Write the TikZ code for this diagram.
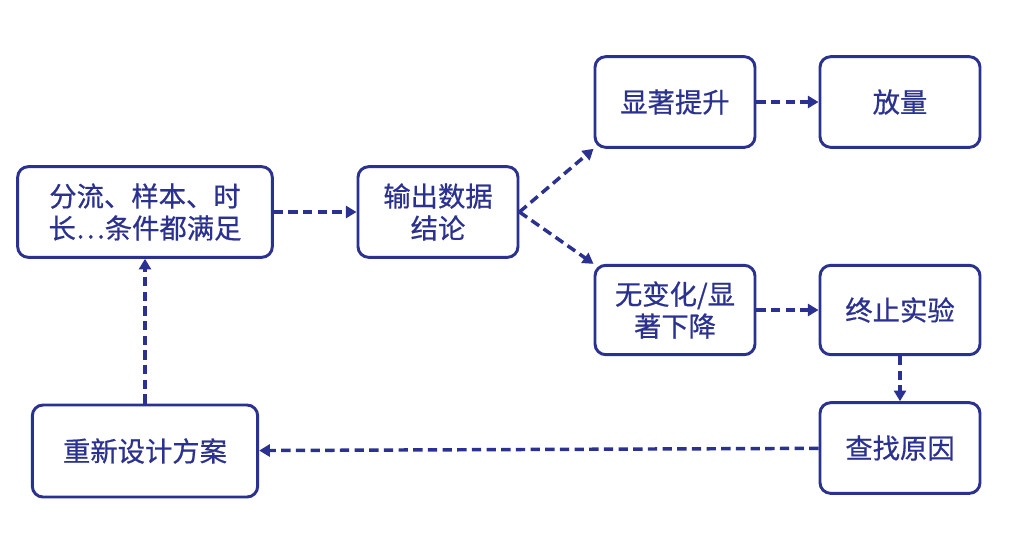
\documentclass[tikz,border=0pt]{standalone}
\usepackage{fontspec}
\setmainfont{Noto Sans CJK SC}[FakeBold=0.6,AutoFakeBold=0.6]
\usetikzlibrary{arrows.meta}
\definecolor{navy}{HTML}{2B3190}
\begin{document}
\begin{tikzpicture}[x=0.75pt,y=-0.75pt,
 box/.style={draw=navy,line width=2.2pt,rounded corners=8pt,fill=white,align=center,
   text=navy,font=\fontsize{20.5}{24}\selectfont\bfseries,inner sep=0pt},
 con/.style={draw=navy,line width=2.6pt,dash pattern=on 7pt off 4pt,-{Triangle[length=8pt,width=9pt]}}]
\useasboundingbox (0,0) rectangle (1016,532);
\node[box,minimum width=191pt,minimum height=68pt] (A) at (145,212) {分流、样本、时\\长…条件都满足};
\node[box,minimum width=120pt,minimum height=68pt] (B) at (438,212) {输出数据\\结论};
\node[box,minimum width=120pt,minimum height=68pt] (C) at (675,102) {显著提升};
\node[box,minimum width=120pt,minimum height=68pt] (D) at (900,102) {放量};
\node[box,minimum width=120pt,minimum height=67pt] (E) at (675,310) {无变化/显\\著下降};
\node[box,minimum width=120pt,minimum height=67pt] (F) at (900,310) {终止实验};
\node[box,minimum width=120pt,minimum height=68pt] (G) at (900,448) {查找原因};
\node[box,minimum width=169pt,minimum height=69pt] (H) at (145,451) {重新设计方案};
\draw[con] (A) -- (B);
\draw[con] (B.east) -- (C.south west);
\draw[con] (B.east) -- (E.north west);
\draw[con] (C) -- (D);
\draw[con] (E) -- (F);
\draw[con] (F) -- (G);
\draw[con] (G) -- (H);
\draw[con] (H) -- (A);
\end{tikzpicture}
\end{document}
